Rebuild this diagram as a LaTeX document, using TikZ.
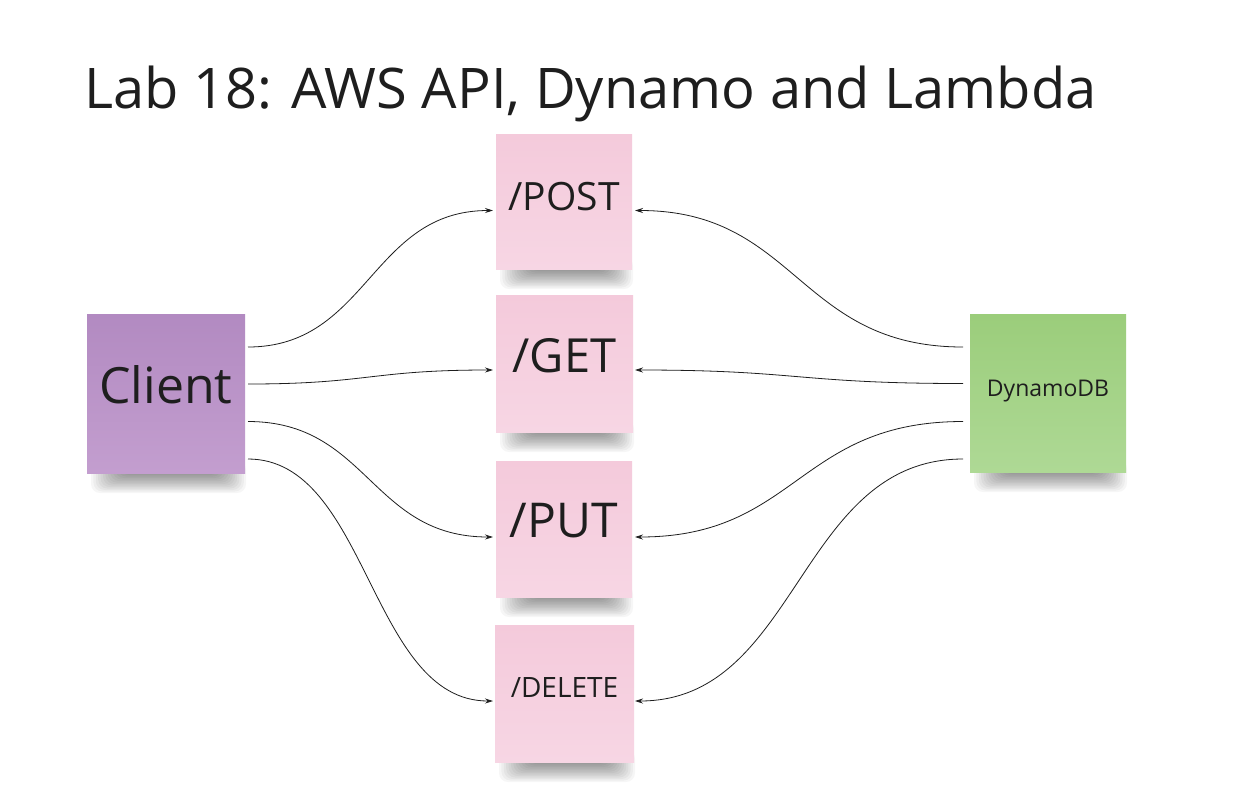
\documentclass[tikz,border=0pt]{standalone}
\usepackage{fontspec}
\setmainfont{Open Sans}
\usetikzlibrary{calc,arrows.meta}
\definecolor{purpleT}{HTML}{B28AC1}
\definecolor{purpleB}{HTML}{C39ECF}
\definecolor{pinkT}{HTML}{F4CADB}
\definecolor{pinkB}{HTML}{F7D6E4}
\definecolor{greenT}{HTML}{9BCD7B}
\definecolor{greenB}{HTML}{AED995}
\definecolor{ink}{HTML}{1E1E1E}
\tikzset{
  note/.style={inner sep=0pt, outer sep=0pt, text=ink},
  conn/.style={draw=ink, line width=0.8pt, -{Stealth[length=8pt,width=5pt]}},
}
\newcommand{\noteshadow}[4]{% x1 y1 x2 y2 (pixel coords)
  \foreach \i in {0,...,13}{
    \fill[black, opacity=0.035, rounded corners=9pt]
      (#1+4+2.4*\i,#4-12) rectangle (#3+1-2.2*\i,#4+20-1.5*\i);
  }
}
\begin{document}
\begin{tikzpicture}[x=1pt,y=-1pt]
\useasboundingbox (0,0) rectangle (1244,796);
\fill[white] (0,0) rectangle (1244,796);

\node[anchor=base west, text=ink, inner sep=0pt, font=\fontsize{56}{60}\selectfont] (title) at (84,108) {Lab 18: AWS API, Dynamo and Lambda};

% shadows
\noteshadow{87}{314}{245}{473}
\noteshadow{496}{134}{632}{269}
\noteshadow{496}{295}{633}{432}
\noteshadow{496}{461}{632}{597}
\noteshadow{495}{625}{634}{762}
\noteshadow{970}{314}{1126}{472}

% notes
\node[note, top color=purpleT, bottom color=purpleB, minimum width=158pt, minimum height=159pt, text depth=18pt, font=\fontsize{50}{54}\selectfont] (client) at (166,393.5) {Client};
\node[note, top color=pinkT, bottom color=pinkB, minimum width=136pt, minimum height=135pt, text depth=10pt, font=\fontsize{39}{42}\selectfont] (post) at (564,201.5) {/POST};
\node[note, top color=pinkT, bottom color=pinkB, minimum width=137pt, minimum height=137pt, text depth=17pt, font=\fontsize{47}{50}\selectfont] (get) at (564.5,363.5) {/GET};
\node[note, top color=pinkT, bottom color=pinkB, minimum width=136pt, minimum height=136pt, text depth=18pt, font=\fontsize{48}{50}\selectfont] (put) at (564,529) {/PUT};
\node[note, top color=pinkT, bottom color=pinkB, minimum width=139pt, minimum height=137pt, text depth=12pt, font=\fontsize{28}{30}\selectfont] (delete) at (564.5,693.5) {/DELETE};
\node[note, top color=greenT, bottom color=greenB, minimum width=156pt, minimum height=158pt, text depth=9.5pt, font=\fontsize{23}{26}\selectfont] (dynamo) at (1048,393) {DynamoDB};

% connectors from Client
\coordinate (c1) at ($(client.east)+(3,-46.5)$);
\coordinate (c2) at ($(client.east)+(3,-9.5)$);
\coordinate (c3) at ($(client.east)+(3,28)$);
\coordinate (c4) at ($(client.east)+(3,65.5)$);
\draw[conn] (c1) .. controls ($(c1)+(120,0)$) and ($(post.west)+(-125,9)$) .. ($(post.west)+(-3,9)$);
\draw[conn] (c2) .. controls ($(c2)+(120,0)$) and ($(get.west)+(-125,6.5)$) .. ($(get.west)+(-3,6.5)$);
\draw[conn] (c3) .. controls ($(c3)+(120,0)$) and ($(put.west)+(-125,8)$) .. ($(put.west)+(-3,8)$);
\draw[conn] (c4) .. controls ($(c4)+(120,0)$) and ($(delete.west)+(-125,7.5)$) .. ($(delete.west)+(-2,7.5)$);

% connectors from DynamoDB
\coordinate (d1) at ($(dynamo.west)+(-7,-46)$);
\coordinate (d2) at ($(dynamo.west)+(-7,-9.5)$);
\coordinate (d3) at ($(dynamo.west)+(-7,28.5)$);
\coordinate (d4) at ($(dynamo.west)+(-7,66)$);
\draw[conn] (d1) .. controls ($(d1)+(-165,0)$) and ($(post.east)+(165,9)$) .. ($(post.east)+(3,9)$);
\draw[conn] (d2) .. controls ($(d2)+(-165,0)$) and ($(get.east)+(165,6.5)$) .. ($(get.east)+(2,6.5)$);
\draw[conn] (d3) .. controls ($(d3)+(-165,0)$) and ($(put.east)+(165,8)$) .. ($(put.east)+(3,8)$);
\draw[conn] (d4) .. controls ($(d4)+(-165,0)$) and ($(delete.east)+(165,7.5)$) .. ($(delete.east)+(1,7.5)$);
\end{tikzpicture}
\end{document}
